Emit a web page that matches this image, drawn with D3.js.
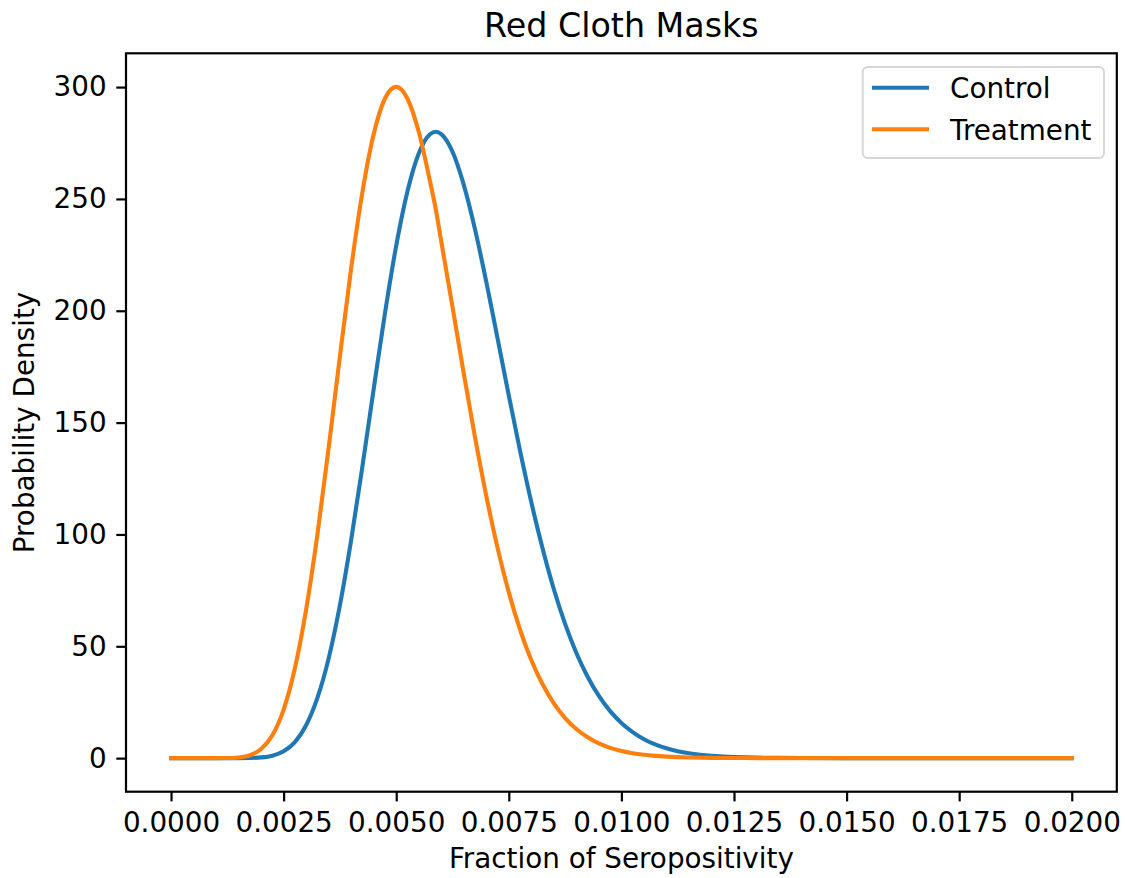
<!DOCTYPE html>
<html>
<head>
<meta charset="utf-8">
<script src="https://cdn.jsdelivr.net/npm/d3@7"></script>
<style>
  html, body { margin: 0; padding: 0; background: #ffffff; }
  svg { display: block; font-family: "DejaVu Sans", sans-serif; }
</style>
</head>
<body>
<svg id="chart" width="1125" height="878"></svg>
<script>
// Posterior density of seropositivity fraction, sampled on a 0.00025 grid
// (plus the Control mode)
const xValues = [
  0.00000, 0.00025, 0.00050, 0.00075, 0.00100, 0.00125, 0.00150, 0.00175,
  0.00200, 0.00225, 0.00250, 0.00275, 0.00300, 0.00325, 0.00350, 0.00375,
  0.00400, 0.00425, 0.00450, 0.00475, 0.00500, 0.00525, 0.00550, 0.00575,
  0.00588, 0.00600, 0.00625, 0.00650, 0.00675, 0.00700, 0.00725, 0.00750,
  0.00775, 0.00800, 0.00825, 0.00850, 0.00875, 0.00900, 0.00925, 0.00950,
  0.00975, 0.01000, 0.01025, 0.01050, 0.01075, 0.01100, 0.01125, 0.01150,
  0.01175, 0.01200, 0.01225, 0.01250, 0.01275, 0.01300, 0.01350, 0.01400,
  0.01500, 0.01750, 0.02000
];

const controlDensity = [
  0, 0, 0, 0, 0.0001, 0.001, 0.01, 0.08,
  0.33, 1.11, 3.07, 7.17, 14.7, 26.9, 44.6, 68.4,
  97.6, 130.5, 165.1, 198.9, 229.1, 253.4, 270.3, 278.9,
  280.0, 279.0, 271.1, 256.3, 236.4, 212.9, 187.7, 162.1,
  137.4, 114.4, 93.7, 75.5, 60.0, 47.0, 36.4, 27.8,
  21.0, 15.7, 11.6, 8.46, 6.12, 4.39, 3.12, 2.20,
  1.54, 1.07, 0.74, 0.50, 0.34, 0.23, 0.10, 0.04,
  0.01, 0, 0
];

const treatmentDensity = [
  0, 0, 0, 0.0002, 0.005, 0.05, 0.32, 1.31,
  4.06, 10.2, 21.7, 40.2, 66.5, 100.0, 138.8, 179.7,
  219.1, 253.1, 279.0, 294.9, 300.1, 294.8, 280.0, 257.9,
  245.2, 231.0, 201.7, 171.9, 143.4, 117.2, 94.0, 74.1,
  57.4, 43.8, 33.0, 24.5, 17.9, 13.0, 9.3, 6.58,
  4.61, 3.20, 2.20, 1.50, 1.01, 0.68, 0.45, 0.30,
  0.20, 0.13, 0.08, 0.05, 0.03, 0.02, 0.01, 0,
  0, 0, 0
];

const seriesNames = ["Control", "Treatment"];
const seriesColors = ["#1f77b4", "#ff7f0e"];

const xTicks = [0, 0.0025, 0.005, 0.0075, 0.01, 0.0125, 0.015, 0.0175, 0.02];
const yTicks = [0, 50, 100, 150, 200, 250, 300];

const titleText = "Red Cloth Masks";
const xLabel = "Fraction of Seropositivity";
const yLabel = "Probability Density";

// Plot area and type sizes
const plot = { left: 126, right: 1116.8, top: 53.3, bottom: 791.7 };
const baseFont = 27.8;
const titleFont = 33.3;
const lineWidth = 4.1;
const spineWidth = 2.2;
const tickLen = 9.7;

const svg = d3.select("#chart");

// Scales with 5% margins on the data extent
const xExtent = d3.extent(xValues);
const xPad = (xExtent[1] - xExtent[0]) * 0.05;
const x = d3.scaleLinear()
  .domain([xExtent[0] - xPad, xExtent[1] + xPad])
  .range([plot.left, plot.right]);

const yMin = Math.min(d3.min(controlDensity), d3.min(treatmentDensity));
const yMax = Math.max(d3.max(controlDensity), d3.max(treatmentDensity));
const yPad = (yMax - yMin) * 0.05;
const y = d3.scaleLinear()
  .domain([yMin - yPad, yMax + yPad])
  .range([plot.bottom, plot.top]);

// Clip region for the curves
svg.append("defs").append("clipPath").attr("id", "plot-clip")
  .append("rect")
  .attr("x", plot.left).attr("y", plot.top)
  .attr("width", plot.right - plot.left).attr("height", plot.bottom - plot.top);

// Density curves
const line = d3.line()
  .x(d => x(d[0]))
  .y(d => y(d[1]))
  .curve(d3.curveMonotoneX);

const series = [controlDensity, treatmentDensity];
const curves = svg.append("g").attr("clip-path", "url(#plot-clip)");
series.forEach((vals, i) => {
  curves.append("path")
    .datum(xValues.map((xv, j) => [xv, vals[j]]))
    .attr("fill", "none")
    .attr("stroke", seriesColors[i])
    .attr("stroke-width", lineWidth)
    .attr("stroke-linejoin", "round")
    .attr("stroke-linecap", "square")
    .attr("d", line);
});

// Axes
const xAxis = d3.axisBottom(x)
  .tickValues(xTicks)
  .tickFormat(d3.format(".4f"))
  .tickSize(tickLen)
  .tickPadding(10.5);

const yAxis = d3.axisLeft(y)
  .tickValues(yTicks)
  .tickFormat(d3.format("d"))
  .tickSize(tickLen)
  .tickPadding(9.7);

const gx = svg.append("g")
  .attr("transform", `translate(0,${plot.bottom})`)
  .call(xAxis);
const gy = svg.append("g")
  .attr("transform", `translate(${plot.left},0)`)
  .call(yAxis);

[gx, gy].forEach(g => {
  g.select(".domain").remove();
  g.selectAll(".tick line").attr("stroke", "#000").attr("stroke-width", spineWidth);
  g.selectAll(".tick text")
    .attr("fill", "#000")
    .style("font-family", "'DejaVu Sans', sans-serif")
    .style("font-size", baseFont + "px");
});

// Frame around the plot area
svg.append("rect")
  .attr("x", plot.left).attr("y", plot.top)
  .attr("width", plot.right - plot.left).attr("height", plot.bottom - plot.top)
  .attr("fill", "none")
  .attr("stroke", "#000")
  .attr("stroke-width", spineWidth);

// Title and axis labels
svg.append("text")
  .attr("x", (plot.left + plot.right) / 2)
  .attr("y", 36.5)
  .attr("text-anchor", "middle")
  .attr("fill", "#000")
  .style("font-size", titleFont + "px")
  .text(titleText);

svg.append("text")
  .attr("x", (plot.left + plot.right) / 2)
  .attr("y", 868)
  .attr("text-anchor", "middle")
  .attr("fill", "#000")
  .style("font-size", baseFont + "px")
  .text(xLabel);

svg.append("text")
  .attr("transform", `translate(34,${(plot.top + plot.bottom) / 2}) rotate(-90)`)
  .attr("text-anchor", "middle")
  .attr("fill", "#000")
  .style("font-size", baseFont + "px")
  .text(yLabel);

// Legend
const legend = svg.append("g");
legend.append("rect")
  .attr("x", 862.7).attr("y", 67)
  .attr("width", 241.3).attr("height", 91)
  .attr("rx", 5).attr("ry", 5)
  .attr("fill", "rgba(255,255,255,0.8)")
  .attr("stroke", "#d6d6d6")
  .attr("stroke-width", 2);

seriesNames.forEach((name, i) => {
  const ly = 87.7 + i * 41.6;
  legend.append("line")
    .attr("x1", 872).attr("x2", 929)
    .attr("y1", ly).attr("y2", ly)
    .attr("stroke", seriesColors[i])
    .attr("stroke-width", lineWidth);
  legend.append("text")
    .attr("x", 950)
    .attr("y", ly + 10.2)
    .attr("fill", "#000")
    .style("font-size", baseFont + "px")
    .text(name);
});
</script>
</body>
</html>
